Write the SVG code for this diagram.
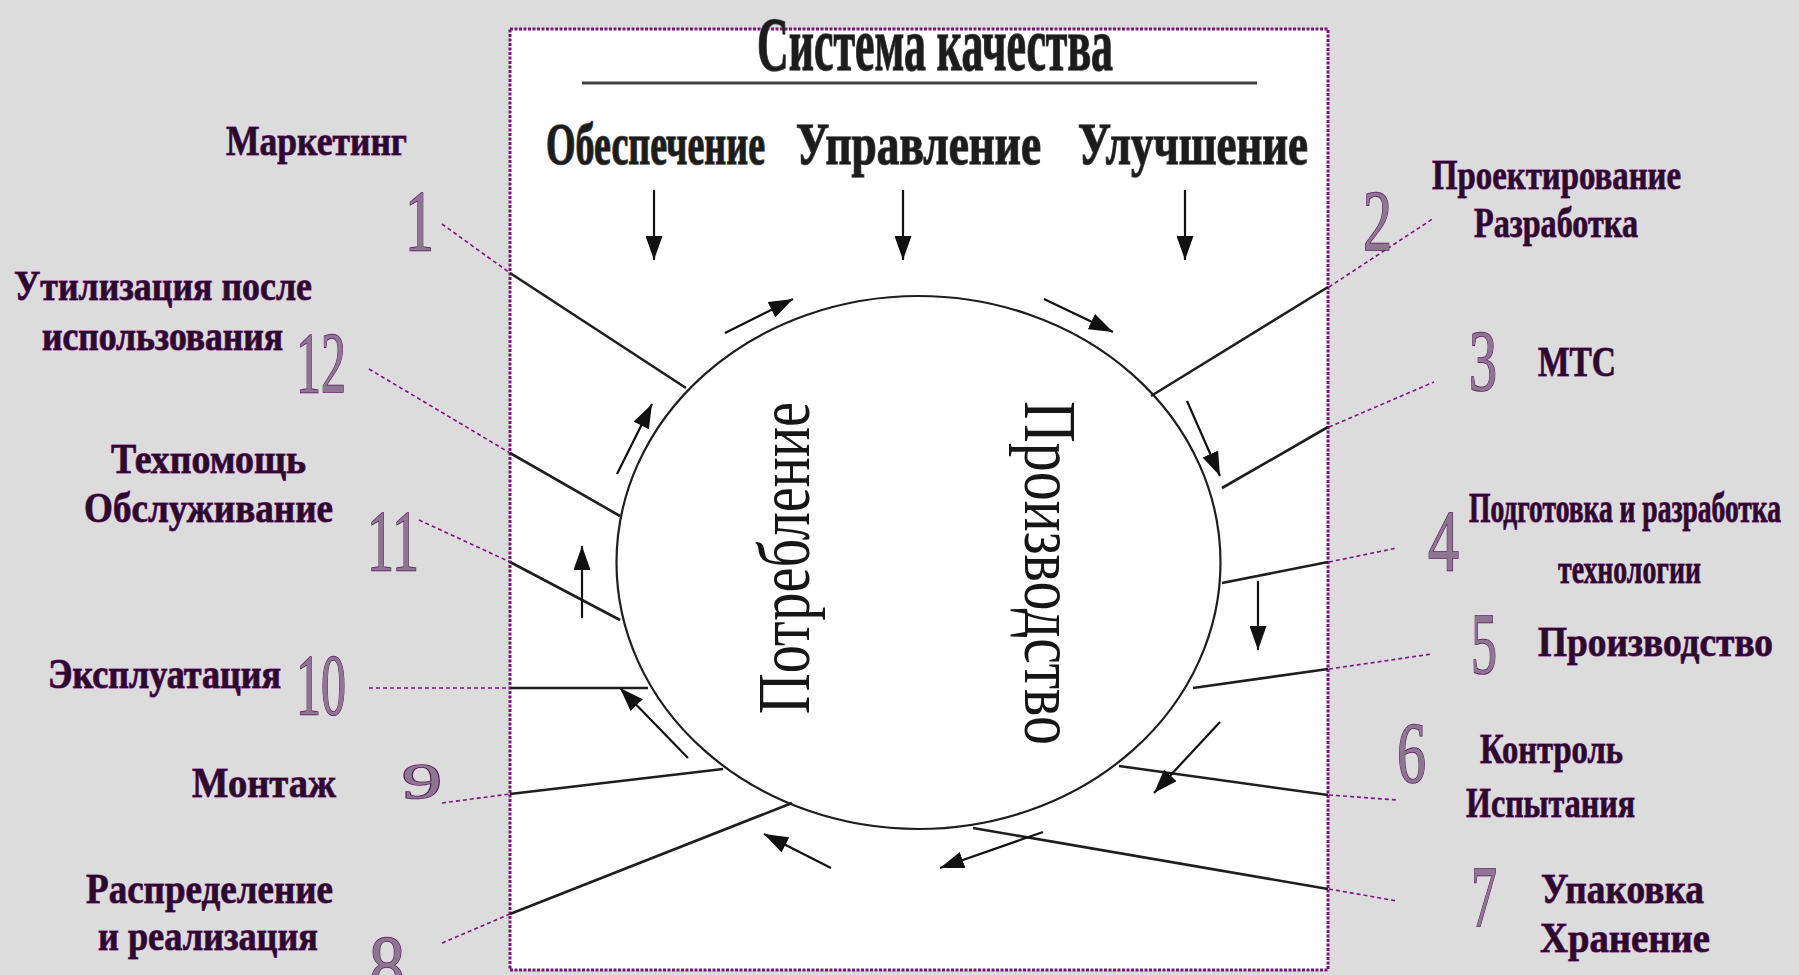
<svg xmlns="http://www.w3.org/2000/svg" width="1799" height="975" viewBox="0 0 1799 975">
<defs>
<marker id="ah" viewBox="0 0 10 10" refX="10" refY="5" markerWidth="24" markerHeight="17" markerUnits="userSpaceOnUse" orient="auto" preserveAspectRatio="none"><path d="M0,0 L10,5 L0,10 z" fill="#111"/></marker>
</defs>
<style>
.bg{fill:#dcdcdc}
.frame{fill:#fff;stroke:#7d1480;stroke-width:3;stroke-dasharray:3 1.5}
.inner{font-family:"Liberation Serif","Times New Roman",serif;fill:#161616}
.head{font-family:"Liberation Serif","Times New Roman",serif;font-weight:bold;fill:#1c1c1c;stroke:#555;stroke-width:0.8;paint-order:stroke}
.lbl{font-family:"Liberation Serif","Times New Roman",serif;font-weight:bold;font-size:42px;fill:#2a0b2c;stroke:#8e2f92;stroke-width:1;paint-order:stroke}
.num{font-family:"Liberation Serif","Times New Roman",serif;font-size:86px;fill:#8d7790;stroke:#5b0f5f;stroke-width:1.5;paint-order:stroke}
.spoke{stroke:#1e1e1e;stroke-width:2.6;fill:none}
.lead{stroke:#7d1480;stroke-width:1.6;stroke-dasharray:4 3;fill:none}
.arr{stroke:#111;stroke-width:2.2;fill:none;marker-end:url(#ah)}
.cyc{fill:#fff;stroke:#1e1e1e;stroke-width:2.2}
</style>
<rect class="bg" x="0" y="0" width="1799" height="975"/>

<g id="quality-system">
<rect class="frame" x="510" y="29" width="818" height="941"/>
<text class="head" transform="translate(757,70) scale(1,2)" style="font-size:38px" textLength="356" lengthAdjust="spacingAndGlyphs">Система качества</text>
<line x1="582" y1="83" x2="1257" y2="83" stroke="#444" stroke-width="3"/>
<text class="head" transform="translate(546,164) scale(1,2)" style="font-size:30px" textLength="219" lengthAdjust="spacingAndGlyphs">Обеспечение</text>
<text class="head" transform="translate(796,164) scale(1,2)" style="font-size:30px" textLength="245" lengthAdjust="spacingAndGlyphs">Управление</text>
<text class="head" transform="translate(1078,164) scale(1,2)" style="font-size:30px" textLength="230" lengthAdjust="spacingAndGlyphs">Улучшение</text>
</g>

<g id="cycle">
<ellipse class="cyc" cx="918.5" cy="562.5" rx="302" ry="266.5"/>
<text class="inner" font-size="74" transform="translate(809,714) rotate(-90)" textLength="312" lengthAdjust="spacingAndGlyphs">Потребление</text>
<text class="inner" font-size="74" transform="translate(1025,401) rotate(90)" textLength="344" lengthAdjust="spacingAndGlyphs">Производство</text>
</g>

<g id="connectors">
<line class="arr" x1="654" y1="190" x2="654" y2="260"/>
<line class="arr" x1="903" y1="190" x2="903" y2="260"/>
<line class="arr" x1="1185" y1="190" x2="1185" y2="260"/>

<line class="spoke" x1="510" y1="273" x2="686" y2="388"/>
<line class="spoke" x1="510" y1="453" x2="620" y2="516"/>
<line class="spoke" x1="510" y1="562" x2="620" y2="620"/>
<line class="spoke" x1="510" y1="688" x2="648" y2="688"/>
<line class="spoke" x1="510" y1="794" x2="723" y2="769"/>
<line class="spoke" x1="510" y1="914" x2="792" y2="803"/>
<line class="spoke" x1="1151" y1="396" x2="1328" y2="287"/>
<line class="spoke" x1="1222" y1="488" x2="1328" y2="427"/>
<line class="spoke" x1="1222" y1="583" x2="1328" y2="562"/>
<line class="spoke" x1="1193" y1="688" x2="1328" y2="669"/>
<line class="spoke" x1="1119" y1="766" x2="1328" y2="795"/>
<line class="spoke" x1="973" y1="828" x2="1328" y2="889"/>

<line class="lead" x1="442" y1="224" x2="510" y2="273"/>
<line class="lead" x1="369" y1="369" x2="510" y2="453"/>
<line class="lead" x1="419" y1="520" x2="510" y2="562"/>
<line class="lead" x1="369" y1="688" x2="510" y2="688"/>
<line class="lead" x1="442" y1="803" x2="510" y2="794"/>
<line class="lead" x1="442" y1="943" x2="510" y2="914"/>
<line class="lead" x1="1329" y1="287" x2="1434" y2="218"/>
<line class="lead" x1="1329" y1="427" x2="1434" y2="382"/>
<line class="lead" x1="1329" y1="562" x2="1397" y2="548"/>
<line class="lead" x1="1329" y1="669" x2="1432" y2="654"/>
<line class="lead" x1="1329" y1="795" x2="1397" y2="800"/>
<line class="lead" x1="1329" y1="889" x2="1397" y2="901"/>

<line class="arr" x1="725" y1="333" x2="793" y2="299"/>
<line class="arr" x1="1044" y1="299" x2="1113" y2="332"/>
<line class="arr" x1="1187" y1="401" x2="1220" y2="476"/>
<line class="arr" x1="1258" y1="581" x2="1258" y2="650"/>
<line class="arr" x1="1220" y1="722" x2="1154" y2="793"/>
<line class="arr" x1="1043" y1="832" x2="940" y2="868"/>
<line class="arr" x1="831" y1="868" x2="764" y2="834"/>
<line class="arr" x1="688" y1="758" x2="620" y2="688"/>
<line class="arr" x1="582" y1="618" x2="582" y2="546"/>
<line class="arr" x1="617" y1="474" x2="652" y2="404"/>
</g>

<g id="stage-1">
<text class="lbl" x="226" y="155" textLength="181" lengthAdjust="spacingAndGlyphs">Маркетинг</text>
<text class="num" x="405" y="250" textLength="29" lengthAdjust="spacingAndGlyphs">1</text>
</g>
<g id="stage-12">
<text class="lbl" x="14" y="300" textLength="298" lengthAdjust="spacingAndGlyphs">Утилизация после</text>
<text class="lbl" transform="translate(42,350) scale(1,2)" style="font-size:21px;stroke-width:0.6" textLength="241" lengthAdjust="spacingAndGlyphs">использования</text>
<text class="num" x="296" y="392" textLength="50" lengthAdjust="spacingAndGlyphs">12</text>
</g>
<g id="stage-11">
<text class="lbl" x="111" y="473" textLength="195" lengthAdjust="spacingAndGlyphs">Техпомощь</text>
<text class="lbl" x="84" y="522" textLength="249" lengthAdjust="spacingAndGlyphs">Обслуживание</text>
<text class="num" x="367" y="570" textLength="52" lengthAdjust="spacingAndGlyphs">11</text>
</g>
<g id="stage-10">
<text class="lbl" transform="translate(48,688) scale(1,2)" style="font-size:21px;stroke-width:0.6" textLength="233" lengthAdjust="spacingAndGlyphs">Эксплуатация</text>
<text class="num" x="296" y="714" textLength="50" lengthAdjust="spacingAndGlyphs">10</text>
</g>
<g id="stage-9">
<text class="lbl" x="192" y="797" textLength="144" lengthAdjust="spacingAndGlyphs">Монтаж</text>
<text class="num" x="402" y="798" style="font-size:50px" textLength="40" lengthAdjust="spacingAndGlyphs">9</text>
</g>
<g id="stage-8">
<text class="lbl" x="86" y="903" textLength="247" lengthAdjust="spacingAndGlyphs">Распределение</text>
<text class="lbl" x="98" y="950" textLength="220" lengthAdjust="spacingAndGlyphs">и реализация</text>
<text class="num" x="369" y="995" textLength="36" lengthAdjust="spacingAndGlyphs">8</text>
</g>
<g id="stage-2">
<text class="num" x="1363" y="250" textLength="29" lengthAdjust="spacingAndGlyphs">2</text>
<text class="lbl" x="1432" y="189" textLength="249" lengthAdjust="spacingAndGlyphs">Проектирование</text>
<text class="lbl" x="1474" y="237" textLength="164" lengthAdjust="spacingAndGlyphs">Разработка</text>
</g>
<g id="stage-3">
<text class="num" x="1469" y="390" textLength="28" lengthAdjust="spacingAndGlyphs">3</text>
<text class="lbl" x="1538" y="376" textLength="78" lengthAdjust="spacingAndGlyphs">МТС</text>
</g>
<g id="stage-4">
<text class="num" x="1428" y="570" textLength="31" lengthAdjust="spacingAndGlyphs">4</text>
<text class="lbl" transform="translate(1469,522) scale(1,2)" style="font-size:21px;stroke-width:0.6" textLength="312" lengthAdjust="spacingAndGlyphs">Подготовка и разработка</text>
<text class="lbl" x="1558" y="583" textLength="143" lengthAdjust="spacingAndGlyphs">технологии</text>
</g>
<g id="stage-5">
<text class="num" x="1471" y="673" textLength="26" lengthAdjust="spacingAndGlyphs">5</text>
<text class="lbl" x="1538" y="656" textLength="235" lengthAdjust="spacingAndGlyphs">Производство</text>
</g>
<g id="stage-6">
<text class="num" x="1397" y="782" textLength="29" lengthAdjust="spacingAndGlyphs">6</text>
<text class="lbl" x="1480" y="763" textLength="143" lengthAdjust="spacingAndGlyphs">Контроль</text>
<text class="lbl" x="1466" y="817" textLength="169" lengthAdjust="spacingAndGlyphs">Испытания</text>
</g>
<g id="stage-7">
<text class="num" x="1471" y="926" textLength="26" lengthAdjust="spacingAndGlyphs">7</text>
<text class="lbl" x="1541" y="903" textLength="163" lengthAdjust="spacingAndGlyphs">Упаковка</text>
<text class="lbl" x="1540" y="952" textLength="170" lengthAdjust="spacingAndGlyphs">Хранение</text>
</g>
</svg>
